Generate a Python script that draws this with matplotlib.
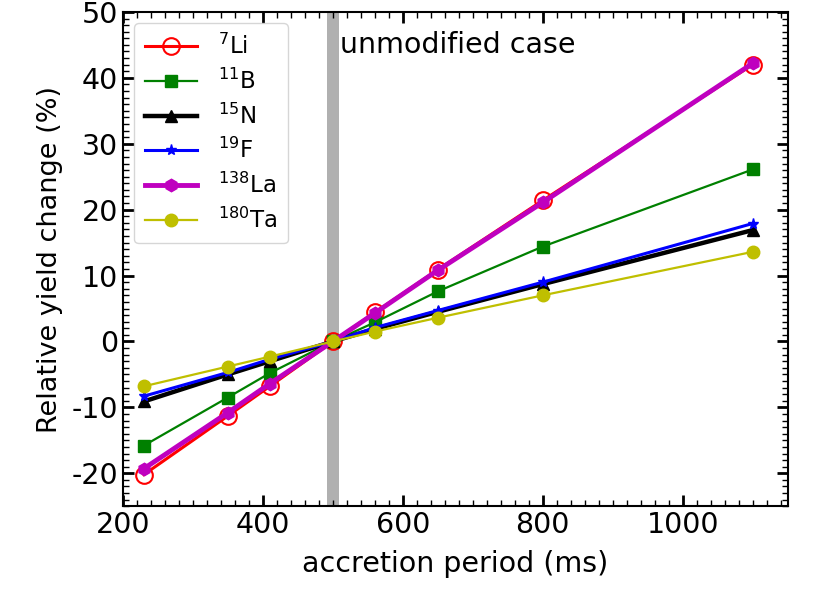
import matplotlib
matplotlib.use('Agg')
import matplotlib.pyplot as plt
from matplotlib.ticker import MultipleLocator

plt.rcParams['axes.unicode_minus'] = False

# accretion periods (ms)
period = [230, 350, 410, 500, 560, 650, 800, 1100]

# relative yield change (%)
li7 = [-20.2, -11.3, -6.8, 0.0, 4.4, 10.9, 21.4, 42.0]
b11 = [-15.8, -8.5, -4.8, 0.0, 2.9, 7.6, 14.4, 26.1]
n15 = [-9.1, -5.0, -3.0, 0.0, 1.9, 4.5, 8.7, 16.9]
f19 = [-8.3, -4.7, -2.7, 0.0, 2.1, 4.7, 9.0, 17.9]
la138 = [-19.3, -10.8, -6.4, 0.0, 4.3, 10.8, 21.1, 42.2]
ta180 = [-6.8, -3.8, -2.3, 0.0, 1.5, 3.6, 7.0, 13.6]

fig = plt.figure(figsize=(8.3, 5.97), dpi=100)
ax = fig.add_axes([0.148, 0.152, 0.801, 0.828])

ax.axvspan(492, 509, color='#b0b0b0', lw=0, zorder=0)
ax.text(510, 43.8, 'unmodified case', fontsize=20.5, va='baseline')

ax.plot(period, li7, 'r-o', lw=2.2, ms=12, mfc='none', mew=1.5, label=r'$^{7}$Li')
ax.plot(period, b11, 'g-s', lw=1.6, ms=8, label=r'$^{11}$B')
ax.plot(period, n15, 'k-^', lw=3.2, ms=8, label=r'$^{15}$N')
ax.plot(period, f19, 'b-*', lw=2.2, ms=8, label=r'$^{19}$F')
ax.plot(period, la138, 'm-h', lw=3.5, ms=9, label=r'$^{138}$La')
ax.plot(period, ta180, 'y-o', lw=1.6, ms=9, label=r'$^{180}$Ta')

ax.set_xlim(200, 1150)
ax.set_ylim(-25, 50)
ax.xaxis.set_major_locator(MultipleLocator(200))
ax.xaxis.set_minor_locator(MultipleLocator(20))
ax.yaxis.set_major_locator(MultipleLocator(10))
ax.yaxis.set_minor_locator(MultipleLocator(1))
ax.tick_params(which='both', direction='in', top=True, right=True, labelsize=20.5)
ax.tick_params(which='major', length=8, width=2)
ax.tick_params(which='minor', length=4, width=1)
for s in ax.spines.values():
    s.set_linewidth(1.5)

ax.set_xlabel('accretion period (ms)', fontsize=20.5, labelpad=8)
ax.set_ylabel('Relative yield change (%)', fontsize=19.5, labelpad=6)
ax.legend(loc='upper left', fontsize=16.5, handlelength=2.3, borderpad=0.45,
          labelspacing=0.42, handletextpad=0.9)

fig.savefig('out.png', dpi=100)
